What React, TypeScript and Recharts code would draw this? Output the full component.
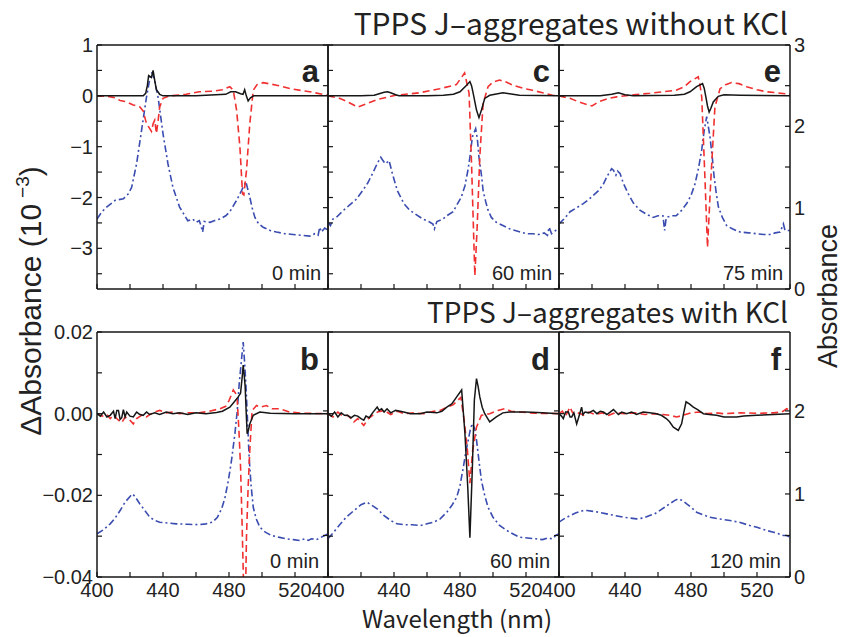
import { ComposedChart, Line, XAxis, YAxis } from "recharts";

type Pt = [number, number];

// top row: left axis in units of 1e-3, right axis absorbance
const aBlack: Pt[] = [
  [400, 0], [410, 0], [420, 0], [428, 0], [429.5, 0.05], [430.5, 0.2], [431.3, 0.4], [432.2, 0.38], [433, 0.36],
  [434, 0.5], [435, 0.3], [436, 0.12], [438, 0.03], [440, 0], [460, 0], [478, 0.03], [481, 0.08], [484, 0.08],
  [487, 0.04], [488.5, 0.03], [489.5, 0.12], [490.5, 0], [491.6, -0.1], [493, -0.04], [495, 0], [520, 0], [540, 0],
];
const aRed: Pt[] = [
  [400, 0], [406, -0.01], [410, -0.03], [414, -0.09], [418, -0.12], [422, -0.18], [426, -0.22], [428, -0.3],
  [430, -0.55], [431.5, -0.62], [433, -0.7], [434, -0.55], [435, -0.48], [436, -0.74], [437, -0.5], [438, -0.22],
  [440, -0.05], [444, 0], [454, 0.03], [462, 0.08], [470, 0.09], [476, 0.12], [480.5, 0.18], [482.6, 0.11],
  [484.6, -0.28], [486.6, -1.0], [488.2, -1.93], [489, -1.95], [490.6, -1.47], [492.6, -0.55], [494.7, 0.11],
  [497, 0.22], [500.7, 0.26], [508.8, 0.21], [518.8, 0.13], [529, 0.08], [540, 0.01],
];
const aBlue: Pt[] = [
  [400, 0.86], [403, 0.95], [406, 1.01], [411, 1.09], [416, 1.11], [419, 1.17], [421, 1.25], [424, 1.54], [427, 1.95],
  [430, 2.36], [432.6, 2.65], [433.5, 2.66], [435, 2.55], [437, 2.36], [440, 1.91], [443, 1.54], [446, 1.25],
  [450, 1.01], [455, 0.84], [458, 0.86], [460, 0.82], [462, 0.84], [463, 0.78], [464, 0.7], [465, 0.83],
  [468.5, 0.82], [471, 0.84], [474.5, 0.86], [478, 0.9], [480.5, 0.95], [482.5, 1.02], [484.6, 1.09], [487.6, 1.21],
  [490.2, 1.32], [492.6, 1.13], [494, 1.0], [495.7, 0.88], [498, 0.8], [500.7, 0.76], [505, 0.72], [508.8, 0.7],
  [514, 0.68], [518.8, 0.67], [524, 0.66], [529, 0.65], [532, 0.68], [534, 0.66], [535, 0.76], [536, 0.7],
  [538, 0.75], [540, 0.72],
];

const cBlack: Pt[] = [
  [400, 0], [420, 0], [428, 0.01], [431, 0.04], [434, 0.07], [436, 0.08], [438, 0.06], [441, 0.02], [443, 0],
  [460, 0], [470, 0.01], [476, 0.03], [480, 0.08], [484, 0.21], [486, 0.28], [487, 0.2], [488, 0.05], [490, -0.28],
  [491.5, -0.43], [493, -0.28], [495, -0.05], [498, 0.01], [506, 0.06], [510, 0.04], [516, 0.01], [540, 0],
];
const cRed: Pt[] = [
  [400, 0], [407, -0.05], [412, -0.12], [418, -0.22], [423, -0.16], [430, -0.07], [441, 0.01], [455.5, 0.06],
  [467.7, 0.14], [477.8, 0.22], [482.8, 0.45], [484.5, 0.2], [485.5, 0.05], [487, -1.34], [489, -3.54],
  [490.3, -2.66], [492, -1.2], [494, -0.15], [497, 0.18], [500, 0.27], [504, 0.31], [508, 0.27], [512, 0.21],
  [518, 0.15], [524, 0.11], [530, 0.06], [536, 0.01], [540, 0],
];
const cBlue: Pt[] = [
  [400, 0.82], [401.5, 0.78], [403, 0.86], [405, 0.88], [409, 0.96], [413, 1.03], [417, 1.1], [421, 1.21],
  [424, 1.3], [427, 1.42], [430, 1.55], [432, 1.62], [434, 1.56], [435, 1.54], [437, 1.58], [439, 1.42],
  [442, 1.21], [446, 1.05], [449.5, 0.97], [453, 0.92], [457.6, 0.86], [461, 0.83], [463.6, 0.8], [464.5, 0.74],
  [466, 0.83], [469.7, 0.86], [472, 0.9], [475.8, 0.95], [478, 1.03], [480.8, 1.13], [483, 1.27], [484.8, 1.46],
  [486, 1.62], [487.5, 1.87], [489.5, 1.97], [490.5, 1.85], [491.5, 1.62], [493, 1.4], [494, 1.21], [495.5, 1.08],
  [497, 0.97], [499, 0.88], [502, 0.82], [506, 0.78], [510, 0.74], [515, 0.71], [520, 0.68], [524, 0.68],
  [528, 0.67], [531, 0.69], [533, 0.66], [534, 0.76], [535.5, 0.68], [538, 0.72], [540, 0.7],
];

const eBlack: Pt[] = [
  [400, 0], [425, 0], [432, 0.03], [436, 0.06], [440, 0.02], [445, 0], [470, 0.01], [476, 0.03], [479.4, 0.08],
  [483.4, 0.18], [487, 0.24], [488, 0.15], [489, -0.02], [490, -0.2], [491, -0.32], [492, -0.25], [493.5, -0.12],
  [496.5, -0.01], [500, 0.02], [510, 0.01], [540, 0],
];
const eRed: Pt[] = [
  [400, 0], [406.7, -0.05], [412, -0.12], [417.8, -0.18], [420, -0.2], [423.8, -0.12], [430, -0.05], [435, -0.02],
  [445, 0.02], [455, 0.05], [463, 0.08], [471, 0.11], [476, 0.18], [479.4, 0.28], [484.4, 0.375], [485.5, 0.2],
  [486.5, -0.02], [488.5, -1.66], [490, -2.98], [492, -1.66], [494.5, -0.22], [497.6, 0.14], [501, 0.22],
  [504.6, 0.26], [509, 0.24], [513.7, 0.18], [520, 0.12], [525.8, 0.08], [532, 0.06], [540, 0.03],
];
const eBlue: Pt[] = [
  [400, 0.8], [403, 0.86], [406.7, 0.95], [410, 0.99], [414.7, 1.05], [418, 1.1], [421.8, 1.17], [424, 1.21],
  [426.9, 1.29], [429, 1.38], [431.9, 1.48], [433, 1.46], [434.5, 1.4], [435.5, 1.45], [437, 1.42], [439, 1.3],
  [442, 1.17], [445, 1.06], [449, 0.97], [453, 0.92], [457, 0.88], [460, 0.9], [463, 0.9], [464, 0.72], [465, 0.88],
  [468, 0.9], [471, 0.9], [474, 0.96], [477.4, 1.05], [480, 1.15], [482.4, 1.29], [484.5, 1.48], [486.5, 1.71],
  [488, 1.95], [489.5, 2.12], [490.5, 2.0], [491.5, 1.87], [493, 1.6], [494, 1.38], [495.3, 1.18], [496.6, 1.01],
  [499, 0.88], [501.6, 0.78], [505, 0.74], [509.7, 0.7], [515, 0.69], [519.8, 0.68], [524, 0.67], [527.9, 0.67],
  [531, 0.69], [534, 0.7], [536, 0.8], [537, 0.72], [540, 0.72],
];

// bottom row: left axis in absorbance difference, right axis absorbance
const bBlack: Pt[] = [
  [400, 0], [402, -0.0006], [404, 0.0004], [406, -0.0008], [408, -0.0004], [410, 0.0006], [411, -0.0012],
  [412, 0.0008], [413, 0.0008], [414, -0.0014], [415, -0.001], [416, 0.001], [417, -0.0008], [418, 0.0004],
  [420, -0.0006], [422, -0.0008], [424, 0.0004], [426, -0.0002], [428, -0.0004], [430, 0.0004], [432, -0.0002],
  [435, 0.0002], [438, -0.0002], [442, 0.0004], [446, 0], [450, 0.0002], [455, -0.0002], [460, 0.0002], [466, 0],
  [472.5, 0.0003], [476, 0.0006], [480.5, 0.0016], [483, 0.0028], [485.6, 0.0041], [487, 0.005], [488, 0.009],
  [488.6, 0.0119], [489.3, 0.009], [489.8, 0.0066], [490.4, 0.0005], [491, -0.0049], [491.8, -0.004],
  [492.6, -0.0025], [494.7, -0.0004], [498.7, 0.0004], [505, 0.0001], [520, 0], [540, 0],
];
const bRed: Pt[] = [
  [400, 0], [403, -0.0006], [406, -0.0002], [408, -0.0012], [410, -0.0004], [413, -0.0016], [415, -0.0022],
  [417, -0.0008], [419, -0.0012], [422, -0.0025], [424, -0.0012], [427, -0.0004], [430, -0.0008], [432, -0.0002],
  [435, 0.0004], [438, 0.0008], [442, 0.0002], [446, 0.0004], [450, 0], [455, 0.0002], [462, 0.0002],
  [468, 0.0006], [474.5, 0.0012], [478, 0.0018], [480, 0.0032], [482.6, 0.0058], [484, 0.005], [485, 0.0033],
  [486, -0.004], [487, -0.013], [488, -0.028], [489, -0.045], [489.8, -0.05], [490.6, -0.03], [491.6, -0.018],
  [492.6, -0.009], [494, 0.0008], [496.7, 0.002], [499, 0.0016], [502.7, 0.002], [506, 0.0012], [510.8, 0.0012],
  [516.8, 0.0004], [525, 0.0001], [540, 0],
];
const bBlue: Pt[] = [
  [400, 0.52], [404, 0.57], [408, 0.64], [411, 0.71], [414, 0.8], [417, 0.9], [420, 0.97], [421.5, 1.0],
  [423, 0.97], [426, 0.88], [429, 0.8], [432, 0.72], [435, 0.68], [438, 0.66], [443, 0.65], [448, 0.64],
  [455, 0.635], [462, 0.63], [466, 0.64], [470, 0.66], [473, 0.72], [475.5, 0.82], [477.5, 0.95], [479.6, 1.16],
  [481.5, 1.4], [483.6, 1.73], [485, 2.0], [486.2, 2.33], [487.5, 2.6], [488.6, 2.83], [489.4, 2.6], [490.2, 2.33],
  [491.2, 1.9], [492.2, 1.44], [493.4, 1.1], [494.7, 0.84], [496.5, 0.7], [498.7, 0.6], [502, 0.54], [505.7, 0.5],
  [510, 0.48], [514.8, 0.46], [519, 0.45], [522.9, 0.44], [526, 0.46], [528, 0.44], [530, 0.46], [533, 0.45],
  [536, 0.48], [538, 0.5], [540, 0.52],
];

const dBlack: Pt[] = [
  [400, 0], [402, -0.0006], [404, 0.0004], [406, -0.0008], [408, 0.0002], [410, -0.0004], [411.7, -0.0004],
  [414, -0.001], [416, -0.0004], [418, -0.0006], [420, -0.0012], [421.7, -0.0016], [423, -0.0006], [425, -0.001],
  [427, 0.0002], [429.8, 0.0016], [431, 0.0008], [432.5, 0.0012], [434, 0.0004], [435.8, 0.0012], [438, 0.0002],
  [441, 0.0008], [445.9, 0.0004], [450, 0], [455.9, 0], [460, 0.0004], [466, 0.0002], [469, 0.0006], [472, 0.0016],
  [475, 0.0024], [478, 0.0041], [481, 0.0058], [483, -0.0049], [484.7, -0.018], [486, -0.0304], [487.5, -0.0131],
  [488.7, 0.0033], [490, 0.0086], [491, 0.0066], [492, 0.0041], [493.5, 0.0015], [495, 0], [498, -0.002],
  [502, -0.0008], [506, 0.0002], [510, 0.0004], [520, 0.0004], [530, 0.0002], [540, 0],
];
const dRed: Pt[] = [
  [400, 0], [403, -0.0008], [406, 0.0004], [409, -0.0006], [412, -0.0004], [415.7, -0.002], [418, -0.0012],
  [421.7, -0.0029], [424, -0.0014], [427, -0.0004], [430, 0.0004], [434, 0.0008], [438, -0.0002], [442, 0.0006],
  [446, 0], [452, 0.0002], [458, 0], [464, 0.0006], [468, 0.0008], [472, 0.0016], [476, 0.0022], [480.5, 0.004],
  [482.5, -0.0016], [484.5, -0.009], [486, -0.017], [487.7, -0.009], [490, -0.0033], [493, -0.0004], [498, 0],
  [503, 0.0008], [507, 0.0012], [511, 0.0006], [516, 0.0004], [525, 0.0001], [540, 0],
];
const dBlue: Pt[] = [
  [400, 0.46], [403, 0.53], [407.6, 0.64], [411, 0.72], [415.7, 0.8], [420, 0.87], [423.7, 0.9], [426, 0.87],
  [429.8, 0.82], [434, 0.74], [438, 0.68], [441.8, 0.64], [446, 0.63], [451, 0.63], [455.9, 0.62], [460, 0.64],
  [464, 0.66], [468, 0.7], [472, 0.78], [475, 0.86], [478, 0.96], [480, 1.1], [482, 1.32], [483.5, 1.5],
  [485, 1.65], [486.5, 1.8], [487.7, 1.85], [489, 1.78], [490, 1.65], [491.5, 1.4], [493, 1.16], [495, 0.98],
  [497, 0.84], [500, 0.72], [504, 0.62], [510, 0.54], [516, 0.48], [521, 0.47], [526, 0.46], [530, 0.45],
  [533, 0.47], [536, 0.46], [538, 0.5], [540, 0.52],
];

const fBlack: Pt[] = [
  [400, 0], [401.5, -0.0006], [402.6, -0.0012], [404, 0.0004], [405.7, 0.0004], [406.7, -0.0008],
  [407.7, -0.0008], [409, 0.0002], [410.7, -0.0025], [412, -0.0008], [413.7, 0.0016], [414.5, -0.0002],
  [415.8, 0.0004], [418, 0.0002], [420.8, 0.0008], [423, 0], [425, 0.0006], [426.9, 0.0004], [429, -0.0002],
  [431, 0.0004], [433, 0.001], [436, -0.0002], [438, 0.0004], [441, 0], [444, 0.0004], [447, -0.0002],
  [451, 0.0004], [455, 0.0002], [459, 0], [462, -0.0004], [465, -0.0012], [467, -0.002], [469.3, -0.0033],
  [472.3, -0.0041], [474.3, -0.0025], [475.5, 0], [477, 0.0029], [479, 0.0024], [481.4, 0.0016], [484, 0.001],
  [487.5, 0], [491, -0.0002], [495.5, -0.0004], [500, -0.0008], [504, -0.0008], [507.7, -0.0008], [512, -0.0006],
  [519.8, -0.0004], [530, -0.0002], [540, 0],
];
const fRed: Pt[] = [
  [400, 0], [402, 0.0006], [404, -0.0006], [406.7, 0.0016], [408, 0.0004], [410, -0.0004], [412, 0.0002],
  [415, -0.0004], [418, 0.0004], [422, -0.0002], [426, 0.0002], [430, -0.0004], [434, 0.0002], [440, 0],
  [446, 0.0002], [452, -0.0002], [458, 0], [463, -0.0002], [467, -0.0004], [471.3, -0.0008], [475.3, -0.0004],
  [480, 0.0002], [485, 0.0004], [490, 0], [495, 0.0002], [500, 0], [510, 0.0002], [520, 0.0001], [530, 0.0002],
  [535, 0.0004], [538, 0.0012], [540, 0.0008],
];
const fBlue: Pt[] = [
  [400, 0.66], [403, 0.7], [406.7, 0.74], [410, 0.77], [414.7, 0.8], [417, 0.8], [420.8, 0.79], [424, 0.78],
  [428.9, 0.76], [434, 0.74], [439, 0.72], [443, 0.71], [447, 0.7], [451, 0.71], [455, 0.74], [458, 0.76],
  [461, 0.8], [464, 0.84], [467, 0.88], [470, 0.92], [472.3, 0.94], [475, 0.92], [477.4, 0.88], [480, 0.84],
  [483.4, 0.78], [487, 0.75], [491.5, 0.72], [497, 0.7], [503.6, 0.68], [509, 0.66], [515.7, 0.62], [520, 0.6],
  [525.8, 0.56], [530, 0.54], [533, 0.52], [536, 0.5], [538, 0.5], [540, 0.48],
];

const X_TICKS = [400, 420, 440, 460, 480, 500, 520, 540];
const X_LABELS = [400, 440, 480, 520];
const TOP_L_TICKS = [-3.5, -3, -2.5, -2, -1.5, -1, -0.5, 0, 0.5, 1];
const BOT_L_TICKS = [-0.04, -0.03, -0.02, -0.01, 0, 0.01, 0.02];
const TOP_R_TICKS = [0, 0.5, 1, 1.5, 2, 2.5, 3];
const BOT_R_TICKS = [0, 0.5, 1, 1.5, 2, 2.5];

const W = 845;
const H = 637;
const COLS = [97, 328, 559, 790];
const ROWS = [
  [45, 289],
  [332, 577],
];

const BLACK = "#161616";
const RED = "#f03030";
const BLUE = "#3a4cb0";
const FONT = "'Liberation Sans', Arial, sans-serif";
const JFONT = "'Noto Sans CJK JP', 'Noto Sans', sans-serif";

const panels = [
  { col: 0, row: 0, black: aBlack, red: aRed, blue: aBlue, letter: "a", time: "0 min" },
  { col: 1, row: 0, black: cBlack, red: cRed, blue: cBlue, letter: "c", time: "60 min" },
  { col: 2, row: 0, black: eBlack, red: eRed, blue: eBlue, letter: "e", time: "75 min" },
  { col: 0, row: 1, black: bBlack, red: bRed, blue: bBlue, letter: "b", time: "0 min" },
  { col: 1, row: 1, black: dBlack, red: dRed, blue: dBlue, letter: "d", time: "60 min" },
  { col: 2, row: 1, black: fBlack, red: fRed, blue: fBlue, letter: "f", time: "120 min" },
];

const rows = (pts: Pt[]) => pts.map(([x, y]) => ({ x, y }));
const minus = (s: string) => s.replace("-", "\u2212");

function Panel({ p }: { p: (typeof panels)[number] }) {
  const L = COLS[p.col];
  const R = COLS[p.col + 1];
  const [T, B] = ROWS[p.row];
  const top = p.row === 0;
  const tick = { fill: "#222", fontSize: 20, fontFamily: FONT };
  const axisLine = { stroke: BLACK, strokeWidth: 1.5 };
  const tickLine = { stroke: BLACK, strokeWidth: 1.2 };

  const fmtLeft = (v: number) => {
    if (p.col !== 0) return "";
    if (top) return Number.isInteger(v) ? minus(String(v)) : "";
    return Math.round(v * 100) % 2 === 0 ? minus(v.toFixed(2)) : "";
  };
  const fmtRight = (v: number) => (p.col === 2 && Number.isInteger(v) ? String(v) : "");
  const fmtBottom = (v: number) => (!top && X_LABELS.includes(v) ? String(v) : "");

  return (
    <div style={{ position: "absolute", left: 0, top: 0 }}>
      <ComposedChart
        width={W}
        height={H}
        margin={{ left: L - 50, right: W - R - 50, top: T - 10, bottom: H - B - 40 }}
      >
        <XAxis
          xAxisId="b"
          type="number"
          dataKey="x"
          domain={[400, 540]}
          ticks={X_TICKS}
          interval={0}
          allowDataOverflow
          height={40}
          tickSize={-5}
          tickMargin={11}
          tick={tick}
          tickFormatter={fmtBottom}
          axisLine={axisLine}
          tickLine={tickLine}
        />
        <XAxis
          xAxisId="t"
          orientation="top"
          type="number"
          dataKey="x"
          domain={[400, 540]}
          ticks={X_TICKS}
          interval={0}
          allowDataOverflow
          height={10}
          tickSize={-5}
          tick={false}
          axisLine={axisLine}
          tickLine={tickLine}
        />
        <YAxis
          yAxisId="L"
          type="number"
          domain={top ? [-3.8, 1] : [-0.04, 0.02]}
          ticks={top ? TOP_L_TICKS : BOT_L_TICKS}
          interval={0}
          allowDataOverflow
          width={50}
          tickSize={-5}
          tickMargin={9}
          tick={tick}
          tickFormatter={fmtLeft}
          axisLine={axisLine}
          tickLine={tickLine}
        />
        <YAxis
          yAxisId="R"
          orientation="right"
          type="number"
          domain={top ? [0, 3] : [0, 2.95]}
          ticks={top ? TOP_R_TICKS : BOT_R_TICKS}
          interval={0}
          allowDataOverflow
          width={50}
          tickSize={-5}
          tickMargin={9}
          tick={tick}
          tickFormatter={fmtRight}
          axisLine={axisLine}
          tickLine={tickLine}
        />
        <Line
          data={rows(p.blue)}
          dataKey="y"
          xAxisId="b"
          yAxisId="R"
          type="linear"
          stroke={BLUE}
          strokeWidth={1.6}
          strokeDasharray="7 3 2 3"
          dot={false}
          isAnimationActive={false}
        />
        <Line
          data={rows(p.red)}
          dataKey="y"
          xAxisId="b"
          yAxisId="L"
          type="linear"
          stroke={RED}
          strokeWidth={1.6}
          strokeDasharray="7 4"
          dot={false}
          isAnimationActive={false}
        />
        <Line
          data={rows(p.black)}
          dataKey="y"
          xAxisId="b"
          yAxisId="L"
          type="linear"
          stroke={BLACK}
          strokeWidth={1.5}
          dot={false}
          isAnimationActive={false}
        />
      </ComposedChart>
    </div>
  );
}

export default function App() {
  return (
    <div style={{ position: "absolute", left: 0, top: 0, width: W, height: H, background: "#fff" }}>
      {panels.map((p) => (
        <Panel key={p.letter} p={p} />
      ))}
      <svg width={W} height={H} style={{ position: "absolute", left: 0, top: 0, pointerEvents: "none" }}>
        <text x={788} y={35} textAnchor="end" fontFamily={JFONT} fontSize={30} fill="#222">
          TPPS J–aggregates without KCl
        </text>
        <text x={788} y={323} textAnchor="end" fontFamily={JFONT} fontSize={28} fill="#222">
          TPPS J–aggregates with KCl
        </text>
        <text x={457} y={628} textAnchor="middle" fontFamily={JFONT} fontSize={24} fill="#222">
          Wavelength (nm)
        </text>
        <text transform="translate(41,301) rotate(-90)" textAnchor="middle" fontFamily={FONT} fontSize={30} fill="#222">
          ΔAbsorbance (10
          <tspan dx={6} dy={-12} fontSize={19}>
            −3
          </tspan>
          <tspan dy={12}>)</tspan>
        </text>
        <text transform="translate(837,296) rotate(-90)" textAnchor="middle" fontFamily={FONT} fontSize={27} fill="#222">
          Absorbance
        </text>
        {panels.map((p) => {
          const R = COLS[p.col + 1];
          const top = p.row === 0;
          return (
            <g key={p.letter}>
              <text
                x={R - 9}
                y={top ? 82 : 370}
                textAnchor="end"
                fontFamily={FONT}
                fontWeight="bold"
                fontSize={31}
                fill="#222"
              >
                {p.letter}
              </text>
              <text x={R - (top ? 7 : 9)} y={top ? 280 : 568} textAnchor="end" fontFamily={FONT} fontSize={20} fill="#222">
                {p.time}
              </text>
            </g>
          );
        })}
      </svg>
    </div>
  );
}
